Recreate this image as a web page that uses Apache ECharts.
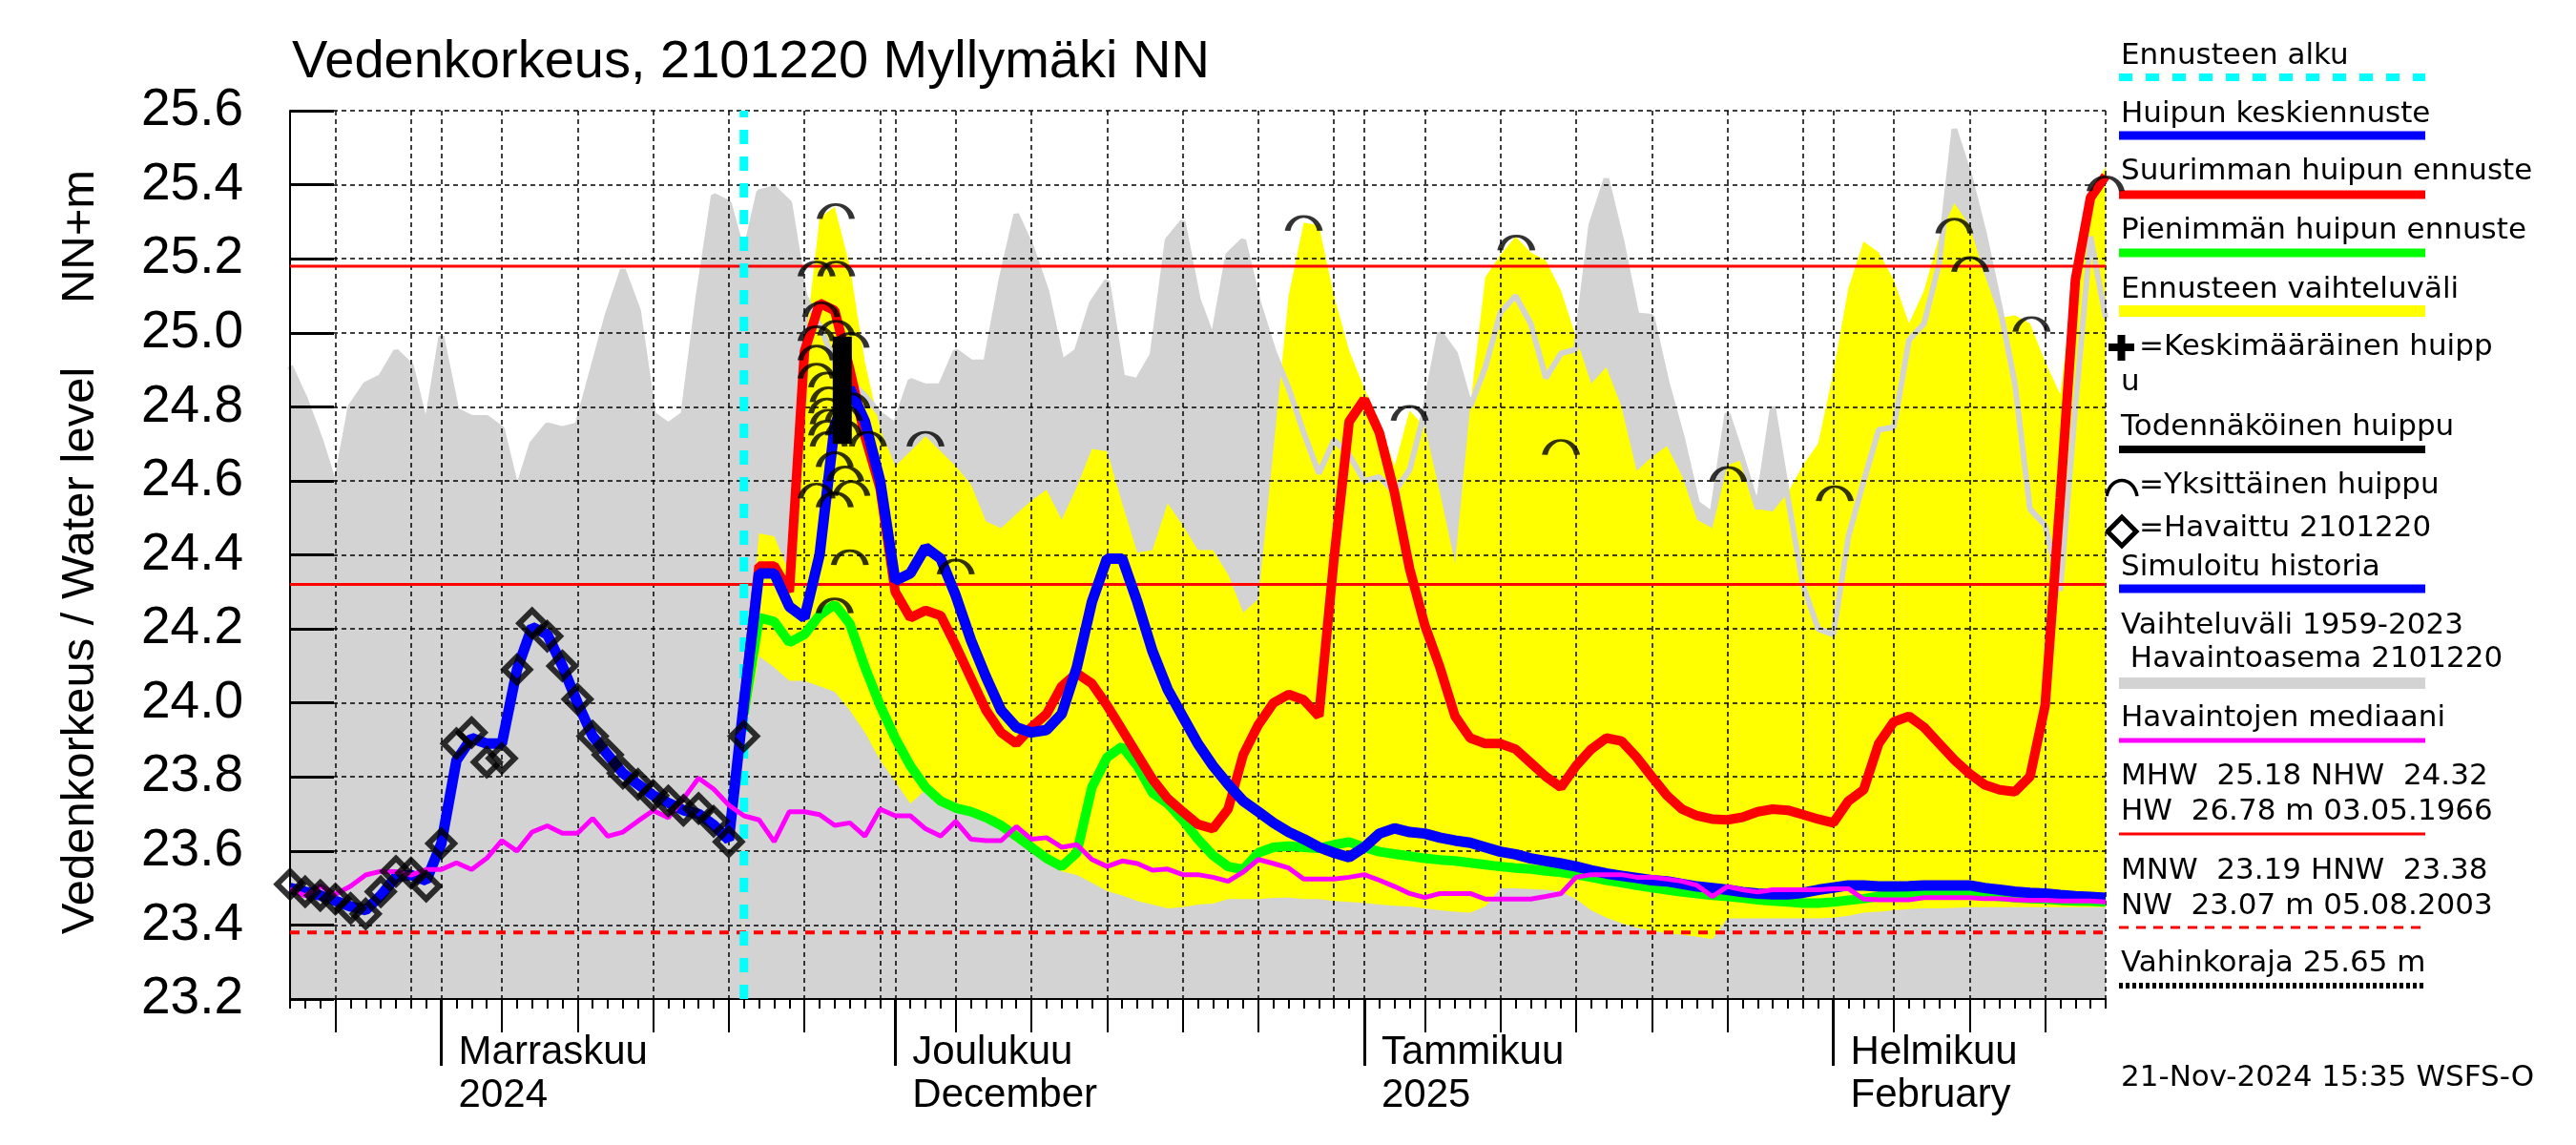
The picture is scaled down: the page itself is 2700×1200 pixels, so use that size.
<!DOCTYPE html>
<html><head><meta charset="utf-8">
<script src="https://cdn.jsdelivr.net/npm/echarts@6/dist/echarts.min.js"></script>
<style>html,body{margin:0;padding:0;background:#fff}#c{width:2700px;height:1200px}</style>
</head><body><div id="c"></div>
<script>
// ---------- axis / category data ----------
const startYear = 2024, startMonth = 9, startDay = 22;   // 22 Oct 2024 (month 0-based)
const dayCount = 121;                                    // 22 Oct 2024 .. 19 Feb 2025
const forecastStart = 30;                                // 21 Nov 2024
const yMin = 23.2, yMax = 25.6, yStep = 0.2;
const gridDays = [1, 5, 10, 15, 20, 25, 30];
const midTickDays = [5, 10, 15, 20, 25];
const monthLabels = {11: 'Marraskuu\n2024', 12: 'Joulukuu\nDecember', 1: 'Tammikuu\n2025', 2: 'Helmikuu\nFebruary'};

// ---------- series values ----------
const observed = [23.51, 23.49, 23.48, 23.47, 23.445, 23.43, 23.49, 23.545, 23.54, 23.505,
  23.62, 23.89, 23.92, 23.84, 23.85, 24.09, 24.215, 24.18, 24.10, 24.01,
  23.91, 23.86, 23.81, 23.78, 23.75, 23.735, 23.71, 23.715, 23.68, 23.625, 23.91];

const meanForecast = [23.50, 23.49, 23.48, 23.465, 23.45, 23.44, 23.48, 23.53, 23.535, 23.52,
  23.62, 23.845, 23.905, 23.89, 23.89, 24.09, 24.205, 24.185, 24.10, 24.0,
  23.91, 23.86, 23.81, 23.78, 23.75, 23.73, 23.71, 23.70, 23.67, 23.63,
  24.0, 24.35, 24.35, 24.26, 24.23, 24.40, 24.75, 24.85, 24.76, 24.60,
  24.33, 24.35, 24.42, 24.39, 24.29, 24.17, 24.07, 23.98, 23.934, 23.92,
  23.927, 23.97, 24.096, 24.273, 24.39, 24.39, 24.273, 24.14, 24.037, 23.963,
  23.89, 23.83, 23.78, 23.735, 23.706, 23.676, 23.651, 23.632, 23.61, 23.595,
  23.583, 23.61, 23.647, 23.661, 23.651, 23.647, 23.636, 23.628, 23.622, 23.61,
  23.598, 23.591, 23.58, 23.573, 23.566, 23.558, 23.548, 23.539, 23.533, 23.527,
  23.521, 23.518, 23.511, 23.504, 23.5, 23.495, 23.489, 23.485, 23.483, 23.483,
  23.487, 23.495, 23.501, 23.507, 23.507, 23.504, 23.504, 23.505, 23.507, 23.507,
  23.507, 23.507, 23.5, 23.495, 23.49, 23.487, 23.485, 23.481, 23.478, 23.476,
  23.473];

// forecast arrays start at day 30
const maxPeak = [24.0, 24.37, 24.37, 24.30, 24.95, 25.08, 25.06, 24.90, 24.72, 24.58,
  24.30, 24.23, 24.25, 24.236, 24.155, 24.067, 23.98, 23.92, 23.89, 23.934,
  23.97, 24.045, 24.08, 24.052, 23.993, 23.927, 23.86, 23.794, 23.742, 23.706,
  23.672, 23.66, 23.713, 23.86, 23.941, 24.0, 24.023, 24.008, 23.964, 24.39,
  24.76, 24.82, 24.73, 24.568, 24.362, 24.21, 24.096, 23.964, 23.905, 23.89,
  23.89, 23.875, 23.838, 23.801, 23.772, 23.83, 23.875, 23.905, 23.897, 23.853,
  23.801, 23.75, 23.713, 23.695, 23.686, 23.684, 23.691, 23.706, 23.713, 23.71,
  23.698, 23.686, 23.676, 23.735, 23.765, 23.89, 23.949, 23.964, 23.934, 23.89,
  23.846, 23.809, 23.779, 23.765, 23.76, 23.801, 23.993, 24.554, 25.143, 25.365,
  25.424];

const minPeak = [23.97, 24.23, 24.22, 24.163, 24.185, 24.237, 24.266, 24.214, 24.096, 23.993,
  23.905, 23.83, 23.772, 23.735, 23.716, 23.706, 23.69, 23.669, 23.64, 23.61,
  23.58, 23.558, 23.595, 23.772, 23.853, 23.882, 23.83, 23.757, 23.728, 23.684,
  23.632, 23.588, 23.558, 23.55, 23.595, 23.61, 23.613, 23.61, 23.607, 23.617,
  23.624, 23.61, 23.598, 23.592, 23.586, 23.58, 23.576, 23.573, 23.568, 23.563,
  23.558, 23.554, 23.551, 23.546, 23.542, 23.536, 23.529, 23.521, 23.514, 23.507,
  23.501, 23.495, 23.489, 23.485, 23.48, 23.477, 23.473, 23.468, 23.465, 23.462,
  23.459, 23.459, 23.462, 23.467, 23.471, 23.477, 23.48, 23.483, 23.485, 23.485,
  23.485, 23.483, 23.48, 23.477, 23.474, 23.471, 23.47, 23.467, 23.465, 23.464,
  23.462];

const forecastLow = [23.90, 24.126, 24.096, 24.06, 24.06, 24.045, 24.03, 23.98, 23.92, 23.846,
  23.787, 23.728, 23.765, 23.743, 23.72, 23.706, 23.684, 23.654, 23.625, 23.602,
  23.58, 23.545, 23.535, 23.514, 23.492, 23.48, 23.465, 23.455, 23.445, 23.448,
  23.455, 23.458, 23.47, 23.47, 23.47, 23.473, 23.474, 23.47, 23.47, 23.465,
  23.462, 23.46, 23.455, 23.452, 23.45, 23.445, 23.44, 23.436, 23.433, 23.45,
  23.499, 23.499, 23.497, 23.495, 23.49, 23.47, 23.44, 23.42, 23.405, 23.393,
  23.385, 23.377, 23.374, 23.368, 23.362, 23.418, 23.418, 23.418, 23.418, 23.418,
  23.418, 23.418, 23.42, 23.425, 23.433, 23.436, 23.44, 23.443, 23.445, 23.445,
  23.446, 23.448, 23.448, 23.448, 23.448, 23.448, 23.448, 23.448, 23.448, 23.448,
  23.448];

const forecastHigh = [24.0, 24.458, 24.45, 24.35, 24.95, 25.31, 25.34, 25.18, 24.92, 24.74,
  24.64, 24.68, 24.72, 24.68, 24.64, 24.59, 24.49, 24.472, 24.51, 24.546,
  24.576, 24.495, 24.583, 24.686, 24.68, 24.539, 24.406, 24.413, 24.539, 24.48,
  24.413, 24.413, 24.347, 24.244, 24.281, 24.686, 25.1, 25.298, 25.29, 25.1,
  24.952, 24.85, 24.76, 24.64, 24.79, 24.745, 24.568, 24.377, 24.80, 25.15,
  25.21, 25.26, 25.217, 25.195, 25.114, 24.988, 24.863, 24.907, 24.80, 24.627,
  24.664, 24.694, 24.613, 24.495, 24.472, 24.642, 24.657, 24.524, 24.517, 24.568,
  24.642, 24.701, 24.893, 25.121, 25.247, 25.217, 25.143, 25.025, 25.114, 25.261,
  25.35, 25.29, 25.158, 25.04, 25.047, 25.025, 24.922, 24.834, 25.16, 25.37,
  25.45];

const median = [23.496, 23.479, 23.505, 23.483, 23.505, 23.535, 23.545, 23.544, 23.535, 23.55,
  23.55, 23.568, 23.55, 23.58, 23.628, 23.60, 23.651, 23.668, 23.648, 23.648,
  23.688, 23.64, 23.651, 23.681, 23.709, 23.69, 23.741, 23.797, 23.767, 23.724,
  23.695, 23.684, 23.625, 23.706, 23.706, 23.698, 23.669, 23.676, 23.64, 23.713,
  23.695, 23.695, 23.66, 23.64, 23.68, 23.632, 23.628, 23.628, 23.666, 23.632,
  23.636, 23.61, 23.617, 23.577, 23.558, 23.573, 23.566, 23.548, 23.551, 23.536,
  23.536, 23.529, 23.518, 23.543, 23.577, 23.566, 23.554, 23.524, 23.524, 23.524,
  23.529, 23.536, 23.521, 23.504, 23.485, 23.474, 23.485, 23.485, 23.485, 23.47,
  23.47, 23.47, 23.47, 23.477, 23.485, 23.529, 23.536, 23.536, 23.536, 23.529,
  23.529, 23.524, 23.518, 23.507, 23.477, 23.504, 23.495, 23.489, 23.495, 23.495,
  23.495, 23.495, 23.498, 23.498, 23.47, 23.468, 23.468, 23.468, 23.474, 23.474,
  23.474, 23.474, 23.471, 23.471, 23.468, 23.467, 23.467, 23.465, 23.465, 23.465,
  23.462];

const historyHigh = [24.91, 24.82, 24.71, 24.58, 24.80, 24.86, 24.88, 24.95, 24.91, 24.74,
  24.99, 24.79, 24.77, 24.77, 24.74, 24.57, 24.70, 24.75, 24.74, 24.75,
  24.90, 25.05, 25.17, 25.06, 24.78, 24.75, 24.78, 25.10, 25.37, 25.35,
  25.20, 25.38, 25.39, 25.35, 25.10, 25.02, 24.92, 24.87, 24.83, 24.78,
  24.75, 24.87, 24.855, 24.856, 24.95, 24.92, 24.92, 25.14, 25.32, 25.23,
  25.11, 24.92, 24.95, 25.08, 25.14, 24.88, 24.87, 24.94, 25.25, 25.30,
  25.09, 24.98, 25.21, 25.25, 25.08, 24.95, 24.85, 24.73, 24.62, 24.71,
  24.67, 24.60, 24.61, 24.57, 24.63, 24.79, 25.0, 24.944, 24.80, 24.907,
  25.055, 25.1, 25.025, 24.878, 24.944, 24.955, 25.29, 25.416, 25.247, 25.047,
  25.043, 24.863, 24.716, 24.539, 24.509, 24.782, 24.657, 24.524, 24.80, 24.553,
  24.317, 24.2, 24.185, 24.45, 24.598, 24.738, 24.745, 24.98, 25.025, 25.188,
  25.55, 25.424, 25.261, 25.07, 24.863, 24.524, 24.48, 24.303, 24.80, 25.26,
  25.04];

// single peaks [day, level at top of arc]
const singlePeaks = [[34.8, 25.19], [36.1, 25.19], [36.07, 25.345], [35.1, 25.08], [36.1, 25.03],
  [34.8, 25.015], [37.05, 24.997], [34.8, 24.963], [34.8, 24.914], [35.5, 24.89], [35.6, 24.85],
  [35.5, 24.82], [35.6, 24.79], [35.5, 24.76], [35.6, 24.73], [37.1, 24.834], [38.2, 24.73],
  [36.0, 24.675], [36.7, 24.636], [37.1, 24.597], [34.8, 24.59], [36.0, 24.566], [36.6, 24.80],
  [36.6, 24.76], [37.0, 24.41], [36.0, 24.28], [42.0, 24.73], [44.0, 24.385], [67.0, 25.313],
  [74.0, 24.80], [81.05, 25.26], [84.0, 24.708], [95.05, 24.635], [102.1, 24.583], [110.0, 25.306],
  [111.05, 25.202], [115.1, 25.04], [120.0, 25.42]];
const probablePeak = [[36.5, 24.70], [36.5, 24.99]];
const MHW = 25.18, NHW = 24.32, HNW = 23.38;

// ---------- helpers ----------
const categories = [];
for (let i = 0; i < dayCount; i++) {
  const d = new Date(Date.UTC(startYear, startMonth, startDay + i));
  categories.push(d.toISOString().slice(0, 10));
}
const dom = v => parseInt(v.slice(8, 10), 10);
const mon = v => parseInt(v.slice(5, 7), 10);
const pairs = (arr, off) => arr.map((v, i) => [i + off, v]);
const FONT = "'Liberation Sans', Arial, Helvetica, sans-serif";
const LFONT = "'DejaVu Sans', 'Liberation Sans', sans-serif";
const lastDay = dayCount - 1;

function lineSeries(data, color, width, z, extra) {
  return Object.assign({type: 'line', data, symbol: 'none', silent: true, z,
    lineStyle: {color, width}, emphasis: {disabled: true}}, extra || {});
}
function areaSeries(data, color, z) {
  return {type: 'line', data, symbol: 'none', silent: true, z,
    lineStyle: {width: 0, opacity: 0}, areaStyle: {color, opacity: 1, origin: 'start'}};
}

const catAxis = (extra) => Object.assign({type: 'category', data: categories, boundaryGap: false,
  position: 'bottom', gridIndex: 0, z: 2, axisLine: {show: false}, axisLabel: {show: false},
  splitLine: {show: false}}, extra);

// ---------- legend graphics ----------
const LX = 2223, LX1 = 2221, LX2 = 2542;
function ltext(text, baseline, x) {
  return {type: 'text', x: x || LX, y: baseline - 10, silent: true,
    style: {text, fill: '#000', font: '31px ' + LFONT, align: 'left', verticalAlign: 'middle'}};
}
function lline(y, color, w, dash) {
  return {type: 'line', silent: true, shape: {x1: LX1, y1: y, x2: LX2, y2: y},
    style: {stroke: color, lineWidth: w, lineDash: dash || null}};
}
const graphics = [
  ltext('Ennusteen alku', 69), lline(81, '#00ffff', 8, [14, 14]),
  ltext('Huipun keskiennuste', 130), lline(142, '#0000ff', 9),
  ltext('Suurimman huipun ennuste', 190), lline(204, '#ff0000', 9),
  ltext('Pienimmän huipun ennuste', 252), lline(265, '#00ff00', 9),
  ltext('Ennusteen vaihteluväli', 314), lline(326, '#ffff00', 12),
  {type: 'rect', silent: true, shape: {x: 2210, y: 360, width: 27, height: 8}, style: {fill: '#000'}},
  {type: 'rect', silent: true, shape: {x: 2219.5, y: 351, width: 8, height: 27}, style: {fill: '#000'}},
  ltext('=Keskimääräinen huipp', 374, 2242), ltext('u', 411),
  ltext('Todennäköinen huippu', 458), lline(471, '#000000', 8),
  {type: 'bezierCurve', silent: true, shape: {x1: 2208, y1: 520, cpx1: 2212, cpy1: 498, cpx2: 2236, cpy2: 498, x2: 2240, y2: 520},
    style: {stroke: '#000', lineWidth: 3.5, fill: null}},
  ltext('=Yksittäinen huippu', 519, 2242),
  {type: 'polygon', silent: true, shape: {points: [[2224, 542], [2239, 557], [2224, 572], [2209, 557]]},
    style: {stroke: '#000', lineWidth: 5, fill: null}},
  ltext('=Havaittu 2101220', 564, 2242),
  ltext('Simuloitu historia', 605), lline(617, '#0000ff', 9),
  ltext('Vaihteluväli 1959-2023', 666), ltext(' Havaintoasema 2101220', 701), lline(716, '#d3d3d3', 12),
  ltext('Havaintojen mediaani', 763), lline(776, '#ff00ff', 5),
  ltext('MHW  25.18 NHW  24.32', 824), ltext('HW  26.78 m 03.05.1966', 861), lline(874, '#ff0000', 3),
  ltext('MNW  23.19 HNW  23.38', 923), ltext('NW  23.07 m 05.08.2003', 960), lline(972, '#ff0000', 3, [10, 8]),
  ltext('Vahinkoraja 25.65 m', 1020), lline(1033, '#000000', 6, [4, 3]),
  ltext('21-Nov-2024 15:35 WSFS-O', 1140),
  {type: 'text', x: 84, y: 682, rotation: Math.PI / 2, silent: true,
    style: {text: 'Vedenkorkeus / Water level', fill: '#000', font: '49px ' + FONT, align: 'center', verticalAlign: 'middle'}},
  {type: 'text', x: 84, y: 248, rotation: Math.PI / 2, silent: true,
    style: {text: 'NN+m', fill: '#000', font: '49px ' + FONT, align: 'center', verticalAlign: 'middle'}}
];

// ---------- option ----------
const option = {
  animation: false,
  backgroundColor: '#ffffff',
  title: {text: 'Vedenkorkeus, 2101220 Myllymäki NN', left: 306, top: 38, padding: 0,
    textStyle: {fontFamily: FONT, fontSize: 56, fontWeight: 'normal', color: '#000'}},
  grid: {left: 304, right: 493, top: 116, bottom: 153, containLabel: false},
  xAxis: [
    {type: 'value', min: 0, max: lastDay, show: false, gridIndex: 0},
    catAxis({
      axisLine: {show: true, lineStyle: {color: '#000', width: 2}},
      axisTick: {show: true, interval: 0, length: 10, lineStyle: {color: '#000', width: 2}},
      splitLine: {show: true, interval: (i, v) => gridDays.includes(dom(v)) || i === lastDay,
        lineStyle: {color: '#000', width: 1.5, type: [5, 4]}}
    }),
    catAxis({
      axisTick: {show: true, interval: (i, v) => midTickDays.includes(dom(v)), length: 35, lineStyle: {color: '#000', width: 2}}
    }),
    catAxis({
      axisTick: {show: true, interval: (i, v) => dom(v) === 1, length: 70, lineStyle: {color: '#000', width: 3}},
      axisLabel: {show: true, interval: (i, v) => dom(v) === 1,
        formatter: v => (dom(v) === 1 && monthLabels[mon(v)]) ? monthLabels[mon(v)] : '',
        align: 'left', padding: [0, 0, 0, 18], margin: 34, fontFamily: FONT, fontSize: 42, lineHeight: 45, color: '#000'}
    })
  ],
  yAxis: {type: 'value', min: yMin, max: yMax, interval: yStep, z: 2,
    axisLine: {show: true, lineStyle: {color: '#000', width: 2}},
    axisTick: {show: true, inside: true, length: 46, lineStyle: {color: '#000', width: 3}},
    axisLabel: {formatter: v => v.toFixed(1), margin: 49, fontFamily: FONT, fontSize: 55, color: '#000'},
    splitLine: {show: true, lineStyle: {color: '#000', width: 1.5, type: [5, 4]}}
  },
  graphic: graphics,
  series: [
    areaSeries(pairs(historyHigh, 0), '#d3d3d3', 1),
    areaSeries(pairs(forecastHigh, forecastStart), '#ffff00', 1),
    areaSeries(pairs(forecastLow, forecastStart), '#d3d3d3', 1),
    lineSeries(pairs(historyHigh, 0), '#d3d3d3', 6, 1),
    lineSeries([[0, MHW], [lastDay, MHW]], '#ff0000', 3, 3),
    lineSeries([[0, NHW], [lastDay, NHW]], '#ff0000', 3, 3),
    lineSeries([[0, HNW], [lastDay, HNW]], '#ff0000', 4, 3, {lineStyle: {color: '#ff0000', width: 4, type: [10, 8]}}),
    lineSeries([[forecastStart, yMin], [forecastStart, yMax]], '#00ffff', 9, 3, {lineStyle: {color: '#00ffff', width: 9, type: [15, 13]}}),
    lineSeries(pairs(minPeak, forecastStart), '#00ff00', 10, 3),
    lineSeries(pairs(maxPeak, forecastStart), '#ff0000', 10, 3),
    lineSeries(pairs(meanForecast, 0), '#0000ff', 11, 3),
    lineSeries(pairs(median, 0), '#ff00ff', 5, 3),
    lineSeries(probablePeak, '#000000', 20, 4),
    {type: 'scatter', data: singlePeaks, silent: true, z: 5,
      symbol: 'path://M0,14 C4,-4 28,-4 32,14', symbolSize: [34, 15], symbolOffset: [0, 7],
      itemStyle: {color: 'rgba(0,0,0,0)', borderColor: '#000', borderWidth: 4}},
    {type: 'scatter', data: pairs(observed, 0), silent: true, z: 5,
      symbol: 'diamond', symbolSize: [27, 27],
      itemStyle: {color: 'rgba(0,0,0,0)', borderColor: '#000', borderWidth: 6}}
  ]
};

const chart = echarts.init(document.getElementById('c'), null, {renderer: 'canvas', width: 2700, height: 1200});
chart.setOption(option);
</script>
</body></html>
